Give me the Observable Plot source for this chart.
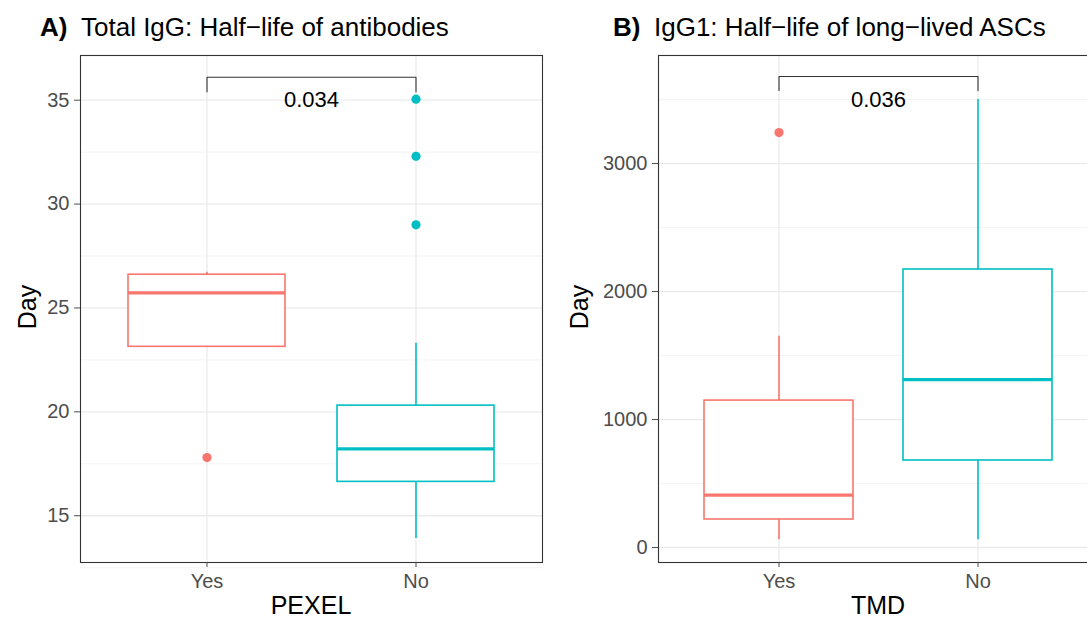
<!DOCTYPE html>
<html><head><meta charset="utf-8">
<script src="https://cdn.jsdelivr.net/npm/d3@7"></script>
<script src="https://cdn.jsdelivr.net/npm/@observablehq/plot@0.6"></script>
<style>
body{margin:0;background:#fff;overflow:hidden}
#wrap{position:relative;width:1087px;height:620px;overflow:hidden;background:#fff;font-family:"Liberation Sans",Arial,Helvetica,sans-serif}
.abs{position:absolute;white-space:nowrap;line-height:1;color:#000}
.t{font-size:25px}
.tt{font-size:26px}
.rot{transform:translate(-50%,-50%) rotate(-90deg)}
.ctr{transform:translateX(-50%)}
svg{position:absolute;top:0}
</style></head><body><div id="wrap"></div>
<script>
// ---------- shared ----------
const groups = ["Yes", "No"];
const groupColors = ["#F8766D", "#00BFC4"];
const yLabel = "Day";

// ---------- Panel A: Total IgG, PEXEL ----------
const tagA = "A)";
const titleA = "Total IgG: Half−life of antibodies";
const xLabelA = "PEXEL";
const q1A  = [23.13, 16.63];
const medA = [25.73, 18.22];
const q3A  = [26.60, 20.30];
const loA  = [23.13, 13.90];
const hiA  = [26.72, 23.30];
const outGroupA = ["Yes", "No", "No", "No"];
const outValueA = [17.80, 35.05, 32.30, 29.00];
const ticksA = [15, 20, 25, 30, 35];
const minorA = [12.5, 17.5, 22.5, 27.5, 32.5];
const domainA = [12.75, 37.15];
const pValueA = "0.034";
const bracketTopA = 36.1, bracketTipA = 35.4, pLabelYA = 35.0;

// ---------- Panel B: IgG1, TMD ----------
const tagB = "B)";
const titleB = "IgG1: Half−life of long−lived ASCs";
const xLabelB = "TMD";
const q1B  = [219, 680];
const medB = [410, 1312];
const q3B  = [1148, 2172];
const loB  = [60, 60];
const hiB  = [1650, 3500];
const outGroupB = ["Yes"];
const outValueB = [3242];
const ticksB = [0, 1000, 2000, 3000];
const minorB = [500, 1500, 2500, 3500];
const domainB = [-117, 3844];
const pValueB = "0.036";
const bracketTopB = 3680, bracketTipB = 3570, pLabelYB = 3500;

function panel(o) {
  const rows = groups.map((g, i) => ({g, q1: o.q1[i], med: o.med[i], q3: o.q3[i], lo: o.lo[i], hi: o.hi[i]}));
  const outs = o.outG.map((g, i) => ({g, v: o.outV[i]}));
  const bracket = [
    {g: groups[0], v: o.tip}, {g: groups[0], v: o.top},
    {g: groups[1], v: o.top}, {g: groups[1], v: o.tip}
  ];
  return Plot.plot({
    width: o.width, height: 620,
    marginLeft: o.marginLeft, marginRight: o.marginRight, marginTop: 55, marginBottom: 58,
    style: {fontFamily: '"Liberation Sans", Arial, sans-serif', background: "transparent", overflow: "visible"},
    x: {type: "band", domain: groups, paddingInner: 0.25, paddingOuter: 0.225, label: null},
    y: {domain: o.domain, label: null},
    color: {domain: groups, range: groupColors},
    marks: [
      Plot.gridY(o.minor, {stroke: "#ebebeb", strokeOpacity: 1, strokeWidth: 0.6}),
      Plot.gridY(o.ticks, {stroke: "#ebebeb", strokeOpacity: 1, strokeWidth: 1.3}),
      Plot.gridX(groups, {stroke: "#ebebeb", strokeOpacity: 1, strokeWidth: 1.3}),
      Plot.ruleX(rows, {x: "g", y1: "q3", y2: "hi", stroke: "g", strokeWidth: 1.6}),
      Plot.ruleX(rows, {x: "g", y1: "lo", y2: "q1", stroke: "g", strokeWidth: 1.6}),
      Plot.barY(rows, {x: "g", y1: "q1", y2: "q3", fill: "white", stroke: "g", strokeWidth: 1.6}),
      Plot.tickY(rows, {x: "g", y: "med", stroke: "g", strokeWidth: 3.2}),
      Plot.dot(outs, {x: "g", y: "v", fill: "g", r: 4.6}),
      Plot.line(bracket, {x: "g", y: "v", stroke: "#333", strokeWidth: 1.1}),
      Plot.text([o.p], {y: () => o.labelY, text: d => d, frameAnchor: "middle", fontSize: 22, fill: "#000"}),
      Plot.frame({stroke: "#333", strokeWidth: 1.1}),
      Plot.axisY(o.ticks, {tickSize: 6, tickPadding: 5, fontSize: 20, color: "#4d4d4d", label: null, tickFormat: d => String(d)}),
      Plot.axisX({tickSize: 5, tickPadding: 6, fontSize: 20, color: "#4d4d4d", label: null})
    ]
  });
}

const wrap = document.getElementById("wrap");
const svgA = panel({q1: q1A, med: medA, q3: q3A, lo: loA, hi: hiA, outG: outGroupA, outV: outValueA,
  ticks: ticksA, minor: minorA, domain: domainA, p: pValueA, top: bracketTopA, tip: bracketTipA, labelY: pLabelYA,
  width: 545, marginLeft: 80, marginRight: 3});
svgA.style.left = "0px";
wrap.appendChild(svgA);
const svgB = panel({q1: q1B, med: medB, q3: q3B, lo: loB, hi: hiB, outG: outGroupB, outV: outValueB,
  ticks: ticksB, minor: minorB, domain: domainB, p: pValueB, top: bracketTopB, tip: bracketTipB, labelY: pLabelYB,
  width: 553, marginLeft: 113, marginRight: 0});
svgB.style.left = "545px";
wrap.appendChild(svgB);

function addText(txt, cls, left, top, bold) {
  const d = document.createElement("div");
  d.className = "abs " + cls;
  d.style.left = left + "px";
  d.style.top = top + "px";
  if (bold) d.style.fontWeight = "bold";
  d.textContent = txt;
  wrap.appendChild(d);
}
addText(tagA, "tt", 40, 14, true);
addText(titleA, "tt", 81, 14);
addText(tagB, "tt", 613, 14, true);
addText(titleB, "tt", 654, 14);
addText(yLabel, "t rot", 27, 307);
addText(yLabel, "t rot", 579, 307);
addText(xLabelA, "t ctr", 311, 593);
addText(xLabelB, "t ctr", 878, 593);
</script></body></html>
